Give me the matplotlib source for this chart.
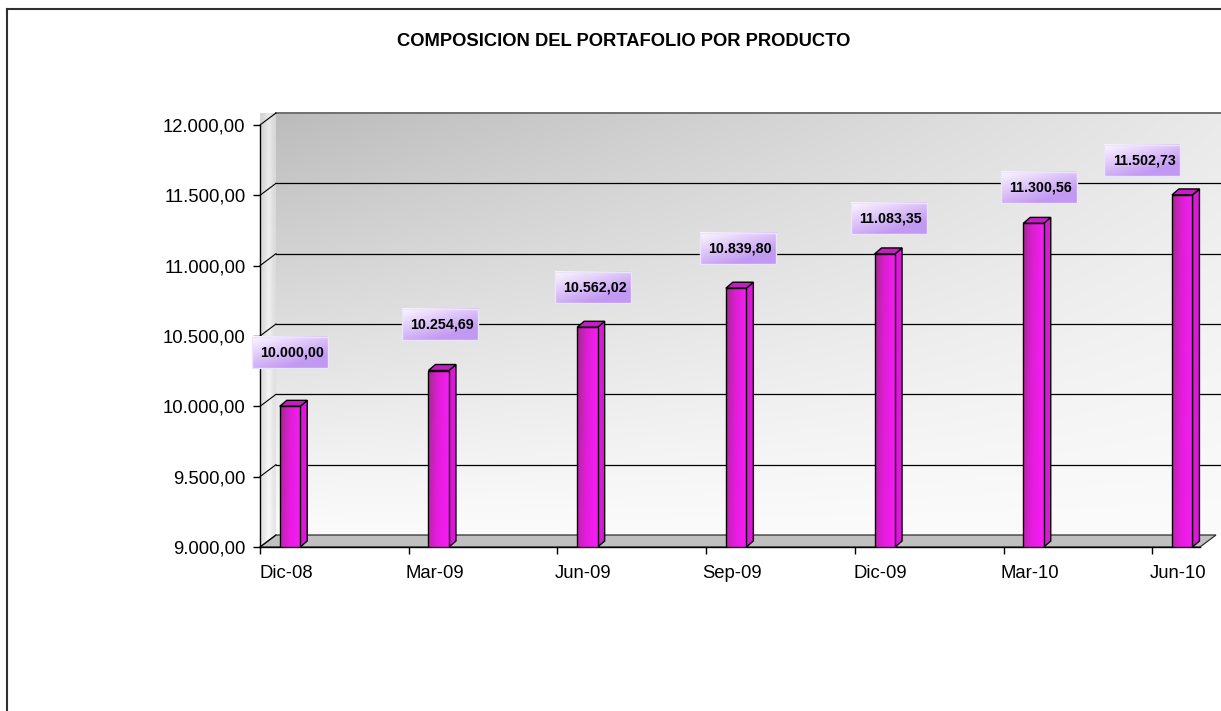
import numpy as np
import matplotlib
matplotlib.use('Agg')
import matplotlib.pyplot as plt
from matplotlib.patches import Polygon, Rectangle
from matplotlib.ticker import FuncFormatter
from matplotlib.lines import Line2D

# ---------------- data ----------------
categories = ['Dic-08', 'Mar-09', 'Jun-09', 'Sep-09', 'Dic-09', 'Mar-10', 'Jun-10']
values = [10000.00, 10254.69, 10562.02, 10839.80, 11083.35, 11300.56, 11502.73]
y_ticks = [9000, 9500, 10000, 10500, 11000, 11500, 12000]
title = 'COMPOSICION DEL PORTAFOLIO POR PRODUCTO'

# label placement offsets (pixels, dx right / dy up from bar top)
label_offsets = [(0, 54), (1.5, 46), (5.5, 40), (2, 40), (4, 35), (5, 36), (-40, 34)]

W, H, DPI = 1221, 711, 100
plt.rcParams['font.family'] = ['Liberation Sans', 'DejaVu Sans']

fig = plt.figure(figsize=(W / DPI, H / DPI), dpi=DPI)
ax_l, ax_r, ax_t, ax_b = 260, 1200, 125, 547
ax = fig.add_axes([ax_l / W, (H - ax_b) / H, (ax_r - ax_l) / W, (ax_b - ax_t) / H])
ax.set_autoscale_on(False)
x = np.arange(len(categories))
cat_px = 148.7
x0 = -30 / cat_px
ax.set_xlim(x0, x0 + (ax_r - ax_l) / cat_px)
ax.set_ylim(y_ticks[0], y_ticks[-1])
ax.patch.set_visible(False)
xmin, xmax = ax.get_xlim()
ymin, ymax = ax.get_ylim()
xpx = (xmax - xmin) / (ax_r - ax_l)   # data units per pixel
ypx = (ymax - ymin) / (ax_b - ax_t)

# ---------------- 3D walls ----------------
wdx, wdy = 16 * xpx, 12 * ypx
ny, nx = 200, 300
u = np.linspace(0, 1, nx)[None, :]
v = np.linspace(0, 1, ny)[:, None]
g = 0.985 - 0.25 * (v ** 1.1) * (1 - 0.75 * u)
wall = np.dstack([g, g, g])
ax.imshow(wall, extent=[xmin + wdx, xmax + wdx + 40 * xpx, ymin + wdy, ymax + wdy],
          origin='lower', aspect='auto', clip_on=False, zorder=0, interpolation='bilinear')

# side wall with a soft highlight
su = np.linspace(0, 1, 20)[None, :]
sv = np.linspace(0, 1, 100)[:, None]
sg = 0.90 + 0.07 * np.exp(-((su - 0.55) / 0.25) ** 2) - 0.06 * sv
sg = np.clip(np.broadcast_to(sg, (100, 20)), 0, 1)
side_img = np.dstack([sg, sg, sg])
side = Polygon([(xmin, ymin), (xmin, ymax), (xmin + wdx, ymax + wdy), (xmin + wdx, ymin + wdy)],
               closed=True, facecolor='none', edgecolor='none', clip_on=False, zorder=0.5)
ax.add_patch(side)
sim = ax.imshow(side_img, extent=[xmin, xmin + wdx, ymin, ymax + wdy], origin='lower',
                aspect='auto', clip_on=False, zorder=0.5, interpolation='bilinear')
sim.set_clip_path(side)

floor = Polygon([(xmin, ymin), (xmax, ymin), (xmax + wdx, ymin + wdy), (xmin + wdx, ymin + wdy)],
                closed=True, facecolor='#c0c0c0', edgecolor='#303030', linewidth=0.9,
                clip_on=False, zorder=1)
ax.add_patch(floor)

for yt in y_ticks[1:]:
    top = yt == y_ticks[-1]
    ax.plot([xmin + wdx, xmax + wdx + 40 * xpx], [yt + wdy, yt + wdy],
            color='#707070' if top else 'black', lw=1.4 if top else 0.9,
            clip_on=False, zorder=1)
for yt in y_ticks:
    ax.plot([xmin, xmin + wdx], [yt, yt + wdy], color='black', lw=0.8, clip_on=False, zorder=1)

# ---------------- bars ----------------
bw = 20.5 * xpx
ddx, ddy = 7 * xpx, 6 * ypx
vals = np.array(values)
bars = ax.bar(x, vals - ymin, bottom=ymin, width=bw, facecolor='none',
              edgecolor='black', linewidth=1.0, zorder=3.2)

# front gradient
gx = np.linspace(0, 1, 40)
stops = [0, 0.45, 1]
cols = np.array([(0.62, 0.17, 0.54), (0.86, 0.12, 0.82), (0.96, 0.12, 0.95)])
hor = np.stack([np.interp(gx, stops, cols[:, k]) for k in range(3)], axis=-1)
gv = np.linspace(0, 1, 60)[:, None, None]
bright = np.array([1.0, 0.08, 1.0])[None, None, :]
front = hor[None, :, :] * (0.65 + 0.35 * gv) + bright * 0.35 * (1 - gv)
front = np.clip(front, 0, 1)

for xi, vi, b in zip(x, vals, bars):
    im = ax.imshow(front, extent=[xi - bw / 2, xi + bw / 2, ymin, vi], origin='lower',
                   aspect='auto', zorder=3.1, interpolation='bilinear')
    im.set_clip_path(b)
    sidep = Polygon([(xi + bw / 2, ymin), (xi + bw / 2 + ddx, ymin + ddy),
                     (xi + bw / 2 + ddx, vi + ddy), (xi + bw / 2, vi)],
                    closed=True, facecolor='#dc18d8', edgecolor='black', linewidth=1.0,
                    clip_on=False, zorder=3)
    topp = Polygon([(xi - bw / 2, vi), (xi + bw / 2, vi), (xi + bw / 2 + ddx, vi + ddy),
                    (xi - bw / 2 + ddx, vi + ddy)],
                   closed=True, facecolor='#c41ec0', edgecolor='black', linewidth=1.0,
                   clip_on=False, zorder=3)
    ax.add_patch(sidep)
    ax.add_patch(topp)

# ---------------- data labels ----------------
def fmt(vv):
    s = f"{vv:,.2f}"
    return s.replace(',', 'X').replace('.', ',').replace('X', '.')

lu = np.linspace(0, 1, 60)[None, :]
lv = np.linspace(0, 1, 20)[:, None]
t = np.clip((0.55 * lu + 0.75 * (1 - lv)), 0, 1)
light = np.array([0.99, 0.97, 1.0])
dark = np.array([0.76, 0.60, 0.95])
lbl_img = light[None, None, :] * (1 - t[..., None]) + dark[None, None, :] * t[..., None]

bx_w, bx_h = 76, 31
for xi, vi, (ox, oy) in zip(x, vals, label_offsets):
    cx = xi + ox * xpx
    cy = vi + oy * ypx
    ext = [cx - bx_w / 2 * xpx, cx + bx_w / 2 * xpx, cy - bx_h / 2 * ypx, cy + bx_h / 2 * ypx]
    ax.imshow(lbl_img, extent=ext, origin='lower', aspect='auto', clip_on=False,
              zorder=5, interpolation='bilinear')
    ax.add_patch(Rectangle((ext[0], ext[2]), ext[1] - ext[0], ext[3] - ext[2],
                           facecolor='none', edgecolor='#ece4fa', linewidth=1.0,
                           clip_on=False, zorder=5.1))
    ax.text(cx + 2 * xpx, cy, fmt(vi), ha='center', va='center', fontsize=10.3,
            fontweight='bold', color='black', zorder=6, clip_on=False)

# ---------------- axes ----------------
ax.set_yticks(y_ticks)
ax.yaxis.set_major_formatter(FuncFormatter(lambda vv, p: fmt(vv)))
ax.tick_params(axis='y', direction='out', length=5, width=1, labelsize=13.3, pad=5.5,
               colors='black')
ax.set_xticks(x + x0)
ax.set_xticklabels([])
ax.set_xticks(x - 4 * xpx, minor=True)
ax.set_xticklabels(categories, minor=True)
ax.tick_params(axis='x', which='major', direction='out', length=5, width=1)
ax.tick_params(axis='x', which='minor', length=0, labelsize=13.3, pad=13)
for s in ['top', 'right']:
    ax.spines[s].set_visible(False)
ax.spines['left'].set_linewidth(1.0)
ax.spines['bottom'].set_linewidth(1.0)
ax.spines['left'].set_zorder(2.5)

# ---------------- title & frame ----------------
fig.text(624 / W, 1 - 42 / H, title, ha='center', va='center', fontsize=13.2,
         fontweight='bold')
fig.add_artist(Line2D([7 / W, 7 / W], [0, 1 - 9 / H], transform=fig.transFigure,
                      color='#303030', lw=1.5))
fig.add_artist(Line2D([7 / W, 1], [1 - 9 / H, 1 - 9 / H], transform=fig.transFigure,
                      color='#303030', lw=1.5))

fig.savefig('out.png', dpi=DPI)
